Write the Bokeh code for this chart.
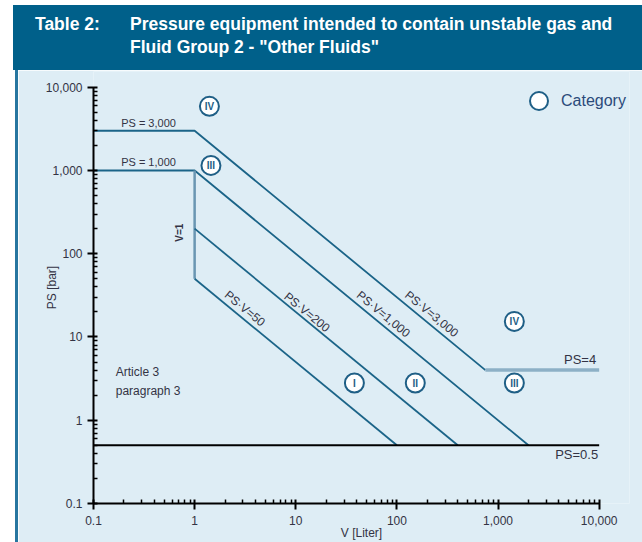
import math
from bokeh.plotting import figure
from bokeh.models import (FixedTicker, NumeralTickFormatter, ColumnDataSource,
                          Legend, LegendItem, Div)
from bokeh.layouts import column, row
from bokeh.embed import file_html
from bokeh.resources import INLINE
from bokeh.core.properties import value

# ---------------- data ----------------
decades = [0.1, 1, 10, 100, 1000, 10000]
minor_mult = [2, 3, 4, 5, 6, 7, 8, 9]

# boundary lines (V in litre, PS in bar)
line_3000_v = [0.1, 1, 750]
line_3000_ps = [3000, 3000, 4]
line_ps4_v = [750, 10000]
line_ps4_ps = [4, 4]
line_1000_v = [0.1, 1, 2000]
line_1000_ps = [1000, 1000, 0.5]
line_200_v = [1, 400]
line_200_ps = [200, 0.5]
line_50_v = [1, 100]
line_50_ps = [50, 0.5]
line_v1_v = [1, 1]
line_v1_ps = [1000, 50]
line_05_v = [0.1, 10000]
line_05_ps = [0.5, 0.5]

# category markers
cat_v = [1.4, 1.45, 38, 152, 1450, 1450]
cat_ps = [5900, 1150, 2.8, 2.8, 2.8, 15.4]
cat_text = ["IV", "III", "I", "II", "III", "IV"]

# diagonal labels
diag_text = ["PS·V=50", "PS·V=200", "PS·V=1,000", "PS·V=3,000"]
diag_v = [3.14, 12.9, 73.5, 221]
diag_ps = [21.9, 19.8, 18.8, 18.9]

# horizontal labels
hlab_text = ["PS = 3,000", "PS = 1,000"]
hlab_v = [0.35, 0.35]
hlab_ps = [3000, 1000]

# ---------------- style ----------------
PANEL = "#deedf5"
HEADER = "#00608a"
BORDER = "#2776a0"
LINE = "#1b6488"
TXT = "#333344"
FONT = "Liberation Sans"

FIG_W, FIG_H = 624, 472
X_END = 10 ** 4.3     # frame extends a little beyond the 10,000 axis end
Y_END = 10 ** 4.189   # frame extends a little above the 10,000 axis end

p = figure(width=FIG_W, height=FIG_H, x_axis_type="log", y_axis_type="log",
           x_range=(0.1, X_END), y_range=(0.1, Y_END),
           output_backend="svg", toolbar_location=None,
           min_border_left=75, min_border_right=13, min_border_top=1,
           min_border_bottom=39, margin=(0, 0, 0, 0))
p.background_fill_color = PANEL
p.border_fill_color = PANEL
p.outline_line_color = None
p.grid.visible = False

minor = [m * d for d in decades[:-1] for m in minor_mult]
for ax in (p.xaxis[0], p.yaxis[0]):
    ax.bounds = (decades[0], decades[-1])
    ax.ticker = FixedTicker(ticks=decades, minor_ticks=minor)
    ax.formatter = NumeralTickFormatter(format="0,0.[0]")
    ax.axis_line_width = 2
    ax.axis_line_color = "black"
    ax.major_tick_line_width = 2
    ax.major_tick_line_color = "black"
    ax.minor_tick_line_width = 1.5
    ax.minor_tick_line_color = "black"
    ax.major_tick_in = 4
    ax.major_tick_out = 6
    ax.minor_tick_in = 4
    ax.minor_tick_out = 0
    ax.major_label_text_font = FONT
    ax.major_label_text_font_size = "12px"
    ax.major_label_text_color = TXT
    ax.axis_label_text_font = FONT
    ax.axis_label_text_font_size = "12px"
    ax.axis_label_text_font_style = "normal"
    ax.axis_label_text_color = TXT

p.xaxis.axis_label = "V [Liter]"
p.yaxis.axis_label = "PS [bar]"
p.xaxis.major_label_standoff = 6
p.xaxis.axis_label_standoff = -2
p.yaxis.major_label_standoff = 5
p.yaxis.axis_label_standoff = -16

# lines
p.line(line_3000_v, line_3000_ps, line_color=LINE, line_width=1.8)
p.line(line_ps4_v, line_ps4_ps, line_color="#8db0c6", line_width=3.5)
p.line(line_1000_v, line_1000_ps, line_color=LINE, line_width=1.8)
p.line(line_v1_v, line_v1_ps, line_color="#6a96b2", line_width=2.5)
p.line(line_200_v, line_200_ps, line_color=LINE, line_width=1.8)
p.line(line_50_v, line_50_ps, line_color=LINE, line_width=1.8)
p.line(line_05_v, line_05_ps, line_color="black", line_width=2)

# category circles
cat_src = ColumnDataSource(dict(v=cat_v, ps=cat_ps, t=cat_text))
cat_r = p.scatter("v", "ps", source=cat_src, size=19, marker="circle",
                  fill_color="white", line_color="#1f5f86", line_width=2)
p.text("v", "ps", text="t", source=cat_src, text_align="center",
       text_baseline="middle", text_font=value(FONT), text_font_size="10px",
       text_font_style="bold", text_color="#1f5f86")

# diagonal labels
angle = -math.atan(83.2 / 101.1)
p.text(diag_v, diag_ps, text=diag_text, angle=angle, text_align="center",
       text_baseline="middle", text_font=value(FONT), text_font_size="12px",
       text_color=TXT)

# horizontal labels
p.text(hlab_v, hlab_ps, text=hlab_text, text_align="center",
       text_baseline="bottom", y_offset=-2, text_font=value(FONT),
       text_font_size="11px", text_color=TXT)
p.text([10000], [4], text=["PS=4"], text_align="right", text_baseline="bottom",
       x_offset=-3, y_offset=-3, text_font=value(FONT), text_font_size="13px",
       text_color=TXT)
p.text([10000], [0.5], text=["PS=0.5"], text_align="right", text_baseline="top",
       x_offset=-1, y_offset=2, text_font=value(FONT), text_font_size="13px",
       text_color=TXT)
p.text([0.715], [179], text=["V=1"], angle=math.pi / 2, text_align="center",
       text_baseline="middle", text_font=value(FONT), text_font_size="10px",
       text_font_style="bold", text_color=TXT)
p.text([0.166], [4.6], text=["Article 3\nparagraph 3"], text_align="left",
       text_baseline="top", text_line_height=1.35, text_font=value(FONT),
       text_font_size="12px", text_color=TXT)

legend = Legend(items=[LegendItem(label="Category", renderers=[cat_r])],
                location=(423, 380), padding=0, margin=0, spacing=0,
                glyph_width=45, glyph_height=45, label_standoff=-6,
                background_fill_alpha=0, border_line_color=None,
                label_text_font=FONT, label_text_font_size="16px",
                label_text_color="#2b4a7a")
p.add_layout(legend)

header = Div(
    text=('<div style="box-sizing:border-box;width:629px;height:65px;'
          f'background:{HEADER};color:white;font-family:\'Liberation Sans\',Arial,sans-serif;'
          'font-weight:bold;font-size:17.5px;line-height:23px;padding:8px 0 0 22px;'
          'display:flex;">'
          '<div style="width:95px;flex:none;">Table 2:</div>'
          '<div>Pressure equipment intended to contain unstable gas and<br>'
          'Fluid Group 2 - "Other Fluids"</div></div>'),
    width=629, height=65, margin=(5, 0, 0, 13))

edge = Div(text=f'<div style="width:3px;height:{FIG_H}px;background:{BORDER};"></div>',
           width=3, height=FIG_H, margin=(0, 0, 0, 0))

layout = column(header, row(edge, p, spacing=0, margin=(0, 0, 0, 15)),
                spacing=0, margin=(0, 0, 0, 0))
open("out.html", "w").write(file_html(layout, INLINE))
